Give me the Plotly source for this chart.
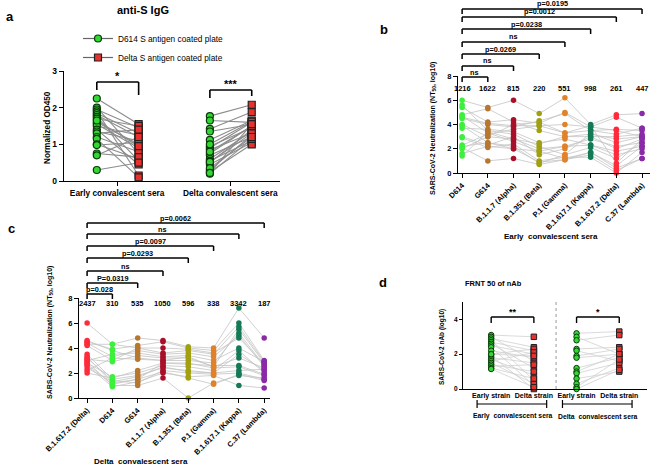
import plotly.graph_objects as go

W, H = 660, 466
FONT = "Liberation Sans, Arial, sans-serif"


def px(x):
    return x / W


def py(y):
    return 1 - y / H


# ---------------- Panel a data (Normalized OD450) ----------------
a_groups = ["Early convalescent sera", "Delta convalescent sera"]
a_early_d614 = [2.25, 2.0, 1.95, 1.9, 1.85, 1.8, 1.75, 1.7, 1.6, 1.55, 1.5, 1.4, 1.35, 1.3, 1.2, 1.15, 1.0, 0.98, 0.75, 0.7, 0.3, 1.65]
a_early_delta = [1.55, 0.75, 1.45, 0.15, 1.3, 1.2, 0.55, 1.5, 1.0, 0.9, 1.25, 0.45, 1.1, 1.4, 0.8, 0.1, 0.6, 1.05, 0.65, 1.2, 0.5, 0.95]
a_delta_d614 = [1.77, 1.65, 1.42, 1.35, 1.12, 0.95, 0.9, 0.85, 0.75, 0.7, 0.6, 0.55, 0.5, 0.45, 0.3, 0.25, 0.2, 1.0, 0.8, 0.52, 0.35, 0.22]
a_delta_delta = [2.08, 1.6, 1.88, 1.55, 1.65, 1.45, 1.6, 1.3, 1.5, 1.2, 1.35, 1.1, 1.4, 1.05, 1.25, 1.0, 1.15, 1.62, 1.5, 1.3, 1.2, 1.55]
a_sig = ["*", "***"]

# ---------------- Panel b data (Early convalescent sera) ----------------
b_variants = ["D614", "G614", "B.1.1.7 (Alpha)", "B.1.351 (Beta)", "P.1 (Gamma)",
              "B.1.617.1 (Kappa)", "B.1.617.2 (Delta)", "C.37 (Lambda)"]
b_gmt = ["1216", "1622", "815", "220", "551", "998", "261", "447"]
b_vals = [
    [6.0, 5.6, 5.4, 4.8, 4.7, 4.5, 4.0, 3.9, 3.7, 3.0, 2.9, 2.3, 2.2, 2.1, 2.0, 1.6, 1.4, 4.6],
    [5.4, 3.5, 4.2, 5.3, 3.3, 4.0, 3.0, 2.5, 3.6, 2.3, 2.1, 3.2, 2.5, 1.0, 3.0, 2.2, 3.4, 4.1],
    [6.0, 3.2, 4.4, 4.2, 2.6, 3.8, 2.8, 2.0, 3.4, 3.0, 2.4, 3.6, 2.2, 1.2, 4.0, 2.0, 2.8, 3.9],
    [4.9, 2.2, 4.1, 3.5, 1.8, 4.3, 2.0, 0.9, 2.5, 1.5, 1.0, 3.9, 0.8, 0.7, 4.2, 1.8, 2.4, 3.9],
    [6.2, 1.5, 5.0, 3.0, 1.2, 4.9, 2.2, 1.1, 2.8, 2.0, 1.3, 4.0, 1.5, 1.1, 3.3, 2.2, 3.0, 3.3],
    [4.0, 3.3, 3.8, 3.0, 1.7, 3.5, 2.8, 1.5, 2.3, 3.0, 1.3, 3.8, 2.1, 1.7, 3.5, 2.3, 3.2, 3.9],
    [4.8, 2.5, 4.6, 2.0, 0.6, 3.6, 2.2, 0.2, 1.8, 3.0, 0.0, 3.5, 1.2, 0.4, 3.2, 1.5, 2.8, 0.8],
    [4.9, 3.0, 3.7, 2.8, 2.2, 3.5, 2.5, 1.2, 2.2, 3.2, 1.7, 3.0, 2.5, 1.2, 3.7, 2.0, 3.0, 2.8],
]
b_colors = ["#3cf03c", "#b8772e", "#a8102a", "#a0a010", "#e0822a", "#137a55", "#ff2b3a", "#8a2aa8"]
b_pvals = ["ns", "ns", "p=0.0269", "ns", "p=0.0238", "p=0.0012", "p=0.0195"]

# ---------------- Panel c data (Delta convalescent sera) ----------------
c_variants = ["B.1.617.2 (Delta)", "D614", "G614", "B.1.1.7 (Alpha)", "B.1.351 (Beta)",
              "P.1 (Gamma)", "B.1.617.1 (Kappa)", "C.37 (Lambda)"]
c_gmt = ["2437", "310", "535", "1050", "596", "338", "3342", "187"]
c_vals = [
    [6.0, 4.6, 4.5, 4.4, 4.2, 3.5, 3.3, 3.2, 3.0, 2.9, 2.8, 2.6, 2.4, 2.2, 2.0, 3.1, 4.3, 2.7],
    [4.3, 3.8, 3.9, 3.3, 3.0, 1.5, 1.2, 1.4, 3.5, 1.0, 1.7, 0.9, 1.3, 3.2, 1.6, 2.9, 4.3, 1.1],
    [4.8, 3.2, 4.2, 3.8, 4.0, 1.8, 1.5, 1.2, 3.6, 1.0, 2.0, 1.3, 1.7, 3.1, 2.2, 3.4, 4.0, 1.5],
    [4.6, 3.0, 4.5, 3.5, 4.0, 2.4, 2.8, 2.2, 3.3, 1.6, 2.6, 2.0, 2.5, 3.0, 2.8, 3.2, 3.6, 2.1],
    [4.1, 3.3, 4.0, 3.6, 3.9, 2.2, 2.8, 2.0, 3.4, 0.0, 2.5, 1.7, 2.1, 3.0, 2.7, 3.2, 3.8, 1.6],
    [4.0, 2.5, 3.8, 3.3, 3.6, 2.0, 2.4, 1.9, 3.0, 1.2, 2.2, 1.8, 2.0, 2.8, 2.6, 2.5, 3.5, 1.1],
    [7.2, 5.5, 6.0, 5.0, 4.8, 3.5, 2.5, 2.0, 4.0, 1.8, 3.8, 1.0, 2.2, 5.2, 2.6, 3.2, 5.7, 1.9],
    [4.8, 2.8, 3.0, 2.5, 2.7, 2.2, 1.8, 1.5, 2.9, 1.6, 2.0, 0.8, 2.3, 2.6, 1.9, 2.4, 2.9, 1.4],
]
c_colors = ["#ff2b3a", "#3cf03c", "#b8772e", "#a8102a", "#a0a010", "#e0822a", "#137a55", "#8a2aa8"]
c_pvals = ["p=0.028", "P=0.0319", "ns", "p=0.0293", "p=0.0097", "ns", "p=0.0062"]

# ---------------- Panel d data (FRNT50 of nAb) ----------------
d_strains = ["Early strain", "Delta strain", "Early strain", "Delta strain"]
d_sera = ["Early  convalescent sera", "Delta  convalescent sera"]
d_early_early = [3.1, 3.0, 2.9, 2.8, 2.7, 2.6, 2.5, 2.4, 2.2, 2.0, 1.9, 1.8, 1.7, 1.6, 1.5, 1.4, 1.3, 1.2, 1.15, 2.0]
d_early_delta = [3.0, 1.6, 2.4, 0.5, 2.2, 1.2, 2.0, 0.2, 1.8, 2.3, 0.0, 1.5, 0.8, 2.1, 0.3, 1.0, 1.4, 0.6, 0.1, 1.9]
d_delta_early = [3.2, 3.0, 2.8, 2.3, 2.2, 1.9, 1.8, 1.2, 1.0, 0.9, 0.6, 0.3, 0.1, 0.0]
d_delta_delta = [3.3, 2.0, 3.1, 2.4, 1.6, 2.3, 2.0, 1.8, 2.0, 1.5, 1.0, 1.2, 1.7, 1.1]
d_sig = ["**", "*"]

GREEN = "#33d633"
RED = "#e8302c"

fig = go.Figure()
shapes = []
annots = []


def pair_lines(x0, x1, v0, v1):
    xs, ys = [], []
    for a, b in zip(v0, v1):
        xs += [x0, x1, None]
        ys += [a, b, None]
    return xs, ys


def chain_lines(groups):
    xs, ys = [], []
    n = len(groups[0])
    for i in range(n):
        for k, g in enumerate(groups):
            xs.append(k)
            ys.append(g[i])
        xs.append(None)
        ys.append(None)
    return xs, ys


# ---------- panel a traces ----------
OFF0, OFF1 = -0.18, 0.19
for gi, (v0, v1) in enumerate([(a_early_d614, a_early_delta), (a_delta_d614, a_delta_delta)]):
    xs, ys = pair_lines(gi + OFF0, gi + OFF1, v0, v1)
    fig.add_trace(go.Scatter(x=xs, y=ys, mode="lines", line=dict(color="#8c8c8c", width=1.1),
                             xaxis="x", yaxis="y", showlegend=False, hoverinfo="skip"))
    fig.add_trace(go.Scatter(x=[gi + OFF0] * len(v0), y=v0, mode="markers",
                             marker=dict(symbol="circle", size=7, color=GREEN, line=dict(color="#0a3a0a", width=1.2)),
                             xaxis="x", yaxis="y", showlegend=False, cliponaxis=False))
    fig.add_trace(go.Scatter(x=[gi + OFF1] * len(v1), y=v1, mode="markers",
                             marker=dict(symbol="square", size=7, color=RED, line=dict(color="#222", width=1.2)),
                             xaxis="x", yaxis="y", showlegend=False, cliponaxis=False))

# legend entries
fig.add_trace(go.Scatter(x=[None], y=[None], mode="lines+markers", name="D614 S antigen coated plate",
                         line=dict(color="#666", width=1.2),
                         marker=dict(symbol="circle", size=7, color=GREEN, line=dict(color="#0a3a0a", width=1.2)),
                         xaxis="x", yaxis="y"))
fig.add_trace(go.Scatter(x=[None], y=[None], mode="lines+markers", name="Delta S antigen coated plate",
                         line=dict(color="#666", width=1.2),
                         marker=dict(symbol="square", size=7, color=RED, line=dict(color="#222", width=1.2)),
                         xaxis="x", yaxis="y"))

# ---------- panel b / c traces ----------
for vals, colors, xa, ya in [(b_vals, b_colors, "x2", "y2"), (c_vals, c_colors, "x3", "y3")]:
    xs, ys = chain_lines(vals)
    fig.add_trace(go.Scatter(x=xs, y=ys, mode="lines", line=dict(color="#c4c4c4", width=0.8),
                             xaxis=xa, yaxis=ya, showlegend=False, hoverinfo="skip"))
    for k, g in enumerate(vals):
        fig.add_trace(go.Scatter(x=[k] * len(g), y=g, mode="markers",
                                 marker=dict(size=5.5, color=colors[k]),
                                 xaxis=xa, yaxis=ya, showlegend=False, cliponaxis=False))

# ---------- panel d traces ----------
for gi, (v0, v1) in enumerate([(d_early_early, d_early_delta), (d_delta_early, d_delta_delta)]):
    x0, x1 = 2 * gi, 2 * gi + 1
    xs, ys = pair_lines(x0, x1, v0, v1)
    fig.add_trace(go.Scatter(x=xs, y=ys, mode="lines", line=dict(color="#d0d0d0", width=0.8),
                             xaxis="x4", yaxis="y4", showlegend=False, hoverinfo="skip"))
    fig.add_trace(go.Scatter(x=[x0] * len(v0), y=v0, mode="markers",
                             marker=dict(symbol="circle", size=5.5, color=GREEN, line=dict(color="#0a3a0a", width=1)),
                             xaxis="x4", yaxis="y4", showlegend=False, cliponaxis=False))
    fig.add_trace(go.Scatter(x=[x1] * len(v1), y=v1, mode="markers",
                             marker=dict(symbol="square", size=5.5, color=RED, line=dict(color="#222", width=1)),
                             xaxis="x4", yaxis="y4", showlegend=False, cliponaxis=False))

# ---------- axes ----------
RA = [-0.47, 1.44]
RB = [-0.16, 7.31]
RC = [-0.32, 7.23]
RD = [-0.66, 3.65]


def xax(dom, rng, **kw):
    d = dict(domain=[px(dom[0]), px(dom[1])], range=rng, showline=True, linecolor="black", linewidth=1.4,
             ticks="outside", ticklen=4, tickwidth=1.3, tickcolor="black", showgrid=False, zeroline=False,
             tickfont=dict(family=FONT, size=8, color="black", weight="bold"), fixedrange=True,
             automargin=False, tickangle=0)
    d.update(kw)
    return d


def yax(dom, rng, **kw):
    d = dict(domain=[py(dom[1]), py(dom[0])], range=rng, showline=True, linecolor="black", linewidth=1.4,
             ticks="outside", ticklen=4, tickwidth=1.3, tickcolor="black", showgrid=False, zeroline=False,
             tickfont=dict(family=FONT, size=8.5, color="black", weight="bold"), fixedrange=True,
             automargin=False)
    d.update(kw)
    return d


layout_axes = dict(
    xaxis=xax((64, 280), RA, anchor="y", tickvals=[0, 1], ticktext=a_groups,
              tickfont=dict(family=FONT, size=8.3, color="black", weight="bold")),
    yaxis=yax((71, 181), [0, 3], anchor="x", dtick=1),
    xaxis2=xax((458, 650), RB, anchor="y2", tickvals=list(range(8)), ticktext=b_variants, tickangle=-45,
               tickfont=dict(family=FONT, size=7.5, color="black", weight="bold")),
    yaxis2=yax((76, 173), [0, 8], anchor="x2", dtick=2, tickfont=dict(family=FONT, size=7.5, color="black", weight="bold")),
    xaxis3=xax((79, 270), RC, anchor="y3", tickvals=list(range(8)), ticktext=c_variants, tickangle=-45,
               tickfont=dict(family=FONT, size=7.5, color="black", weight="bold")),
    yaxis3=yax((298, 398), [0, 8], anchor="x3", dtick=2, tickfont=dict(family=FONT, size=7.5, color="black", weight="bold")),
    xaxis4=xax((463, 647), RD, anchor="y4", tickvals=[0, 1, 2, 3], ticktext=d_strains, ticks="", linewidth=1,
               tickfont=dict(family=FONT, size=7, color="black", weight="bold")),
    yaxis4=yax((302, 389), [0, 5], anchor="x4", tickvals=[0, 2, 4], linewidth=1, ticklen=3, tickwidth=1,
               tickfont=dict(family=FONT, size=6.5, color="black", weight="bold")),
)


def frac(x, rng):
    return (x - rng[0]) / (rng[1] - rng[0])


def hline(xa, rng, x0, x1, ypx, w=1.6):
    shapes.append(dict(type="line", xref=f"{xa} domain", yref="paper", x0=frac(x0, rng), x1=frac(x1, rng),
                       y0=py(ypx), y1=py(ypx), line=dict(color="black", width=w)))


def vline(xa, rng, x, y0px, y1px, w=1.6, color="black", dash=None):
    ln = dict(color=color, width=w)
    if dash:
        ln["dash"] = dash
    shapes.append(dict(type="line", xref=f"{xa} domain", yref="paper", x0=frac(x, rng), x1=frac(x, rng),
                       y0=py(y0px), y1=py(y1px), line=ln))


def bracket(xa, rng, x0, x1, ypx, leg0, leg1, w=1.6):
    hline(xa, rng, x0, x1, ypx, w)
    vline(xa, rng, x0, ypx, ypx + leg0, w)
    vline(xa, rng, x1, ypx, ypx + leg1, w)


def text(s, x, y, size, xref="paper", bold=True, angle=0, xanchor="center", yanchor="middle"):
    annots.append(dict(text=s, x=x, y=y, xref=xref, yref="paper", showarrow=False, textangle=angle,
                       xanchor=xanchor, yanchor=yanchor,
                       font=dict(family=FONT, size=size, color="black", weight="bold" if bold else "normal")))


# ---------- panel a annotations ----------
text("a", px(4), py(16), 13, xanchor="left")
text("anti-S IgG", px(143), py(10), 11)
text("Normalized OD450", px(47), py(128), 8.2, angle=-90)
bracket("x", RA, OFF0, OFF1, 82, 8, 13)
text(a_sig[0], OFF0 / 2 + OFF1 / 2, py(76), 11, xref="x")
bracket("x", RA, 1 + OFF0, 1 + OFF1, 90, 8, 6)
text(a_sig[1], 1 + (OFF0 + OFF1) / 2, py(84), 11, xref="x")

# ---------- panel b annotations ----------
text("b", px(378), py(29), 13, xanchor="left")
b_levels = [77, 66, 54, 42, 29, 17, 9]
for k, (lvl, p) in enumerate(zip(b_levels, b_pvals)):
    bracket("x2", RB, 0, k + 1, lvl, 5, 5, 1.5)
    text(p, (k + 1) / 2, py(lvl - 5), 7.3, xref="x2")
for k, g in enumerate(b_gmt):
    text(g, k, py(88), 7.5, xref="x2")
text("SARS-CoV-2 Neutralization (NT<sub>50</sub>, log10)", px(433), py(128), 7, angle=-90)
text("Early  convalescent sera", px(551), py(236), 8)

# ---------- panel c annotations ----------
text("c", px(6), py(228), 13, xanchor="left")
c_levels = [294, 283, 271, 258, 246, 234, 223]
for k, (lvl, p) in enumerate(zip(c_levels, c_pvals)):
    bracket("x3", RC, 0, k + 1, lvl, 5, 5, 1.5)
    text(p, (k + 1) / 2, py(lvl - 5), 7.3, xref="x3")
for k, g in enumerate(c_gmt):
    text(g, k, py(303), 7.5, xref="x3")
text("SARS-CoV-2 Neutralization (NT<sub>50</sub>, log10)", px(50), py(333), 7, angle=-90)
text("Delta  convalescent sera", px(141), py(461), 8)

# ---------- panel d annotations ----------
text("d", px(377), py(282), 13, xanchor="left")
text("FRNT 50 of nAb", px(493), py(283), 7.5)
text("SARS-CoV-2 nAb (log10)", px(442), py(347), 6.5, angle=-90)
vline("x4", RD, 1.52, 302, 389, w=1, color="#999", dash="dot")
bracket("x4", RD, 0, 1, 317, 6, 6, 1.4)
text(d_sig[0], 0.5, py(312), 9, xref="x4")
bracket("x4", RD, 2, 3, 317, 6, 6, 1.4)
text(d_sig[1], 2.5, py(312), 9, xref="x4")
# sera group brackets under tick labels
for gi, lab in enumerate(d_sera):
    a0, a1 = 2 * gi - 0.33, 2 * gi + 1.3
    hline("x4", RD, a0, a1, 404, 1.2)
    vline("x4", RD, a0, 400, 408, 1.2)
    vline("x4", RD, a1, 400, 408, 1.2)
    text(lab, 2 * gi + 0.5, py(416), 6.8, xref="x4")

fig.update_layout(
    width=W, height=H,
    margin=dict(l=0, r=0, t=0, b=0, autoexpand=False),
    paper_bgcolor="white", plot_bgcolor="white",
    font=dict(family=FONT, color="black"),
    shapes=shapes, annotations=annots,
    showlegend=True,
    legend=dict(x=px(78), y=py(24), xanchor="left", yanchor="top", bgcolor="rgba(0,0,0,0)",
                font=dict(family=FONT, size=8.3, color="black"), tracegroupgap=0, itemwidth=30),
    **layout_axes,
)

fig.write_html("out.html", config={"displayModeBar": False},
               post_script="document.body.style.margin='0';document.body.style.overflow='hidden';")
